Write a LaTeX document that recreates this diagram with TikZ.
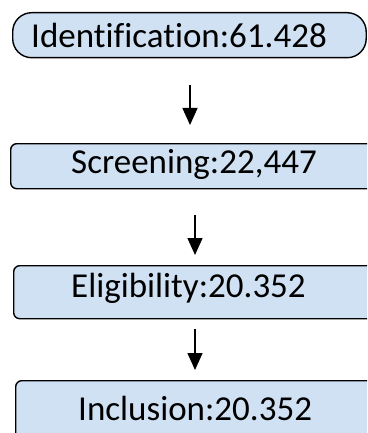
\documentclass[tikz,border=0pt]{standalone}
\usepackage{fontspec}
\setmainfont{Carlito}[Ligatures=NoCommon]
\usetikzlibrary{arrows.meta}
\definecolor{boxfill}{HTML}{D0E1F3}
\begin{document}
\begin{tikzpicture}[x=1pt,y=-1pt,
  boxbase/.style={draw=black,fill=boxfill,line width=1.4pt,inner sep=0pt,anchor=north west},
  pillbox/.style={boxbase,rounded corners=19pt},
  stagebox/.style={boxbase,rounded corners=6pt},
  label/.style={inner sep=0pt,anchor=base west,font=\fontsize{35}{42}\selectfont},
  arr/.style={line width=1.4pt,-{Triangle[width=15pt,length=17pt]}}]
\useasboundingbox (0,0) rectangle (367,433);
\clip (0,0) rectangle (367,433);
\node[pillbox,minimum width=353.5pt,minimum height=45pt] (b1) at (12,12) {};
\node[stagebox,minimum width=370pt,minimum height=45pt] (b2) at (10,143) {};
\node[stagebox,minimum width=370pt,minimum height=53pt] (b3) at (13,265) {};
\node[stagebox,minimum width=370pt,minimum height=65pt] (b4) at (15,380) {};
\node[label] (t1) at (31,48) {Identification:61.428};
\node[label] (t2) at (71,173) {Screening:22,447};
\node[label] (t3) at (71,297) {Eligibility:20.352};
\node[label] (t4) at (78,420) {Inclusion:20.352};
\coordinate (a1s) at (190,85);
\coordinate (a1e) at (190,125);
\coordinate (a2s) at (195,215);
\coordinate (a2e) at (195,255);
\coordinate (a3s) at (195,329);
\coordinate (a3e) at (195,370);
\draw[arr] (a1s) -- (a1e);
\draw[arr] (a2s) -- (a2e);
\draw[arr] (a3s) -- (a3e);
\end{tikzpicture}
\end{document}
